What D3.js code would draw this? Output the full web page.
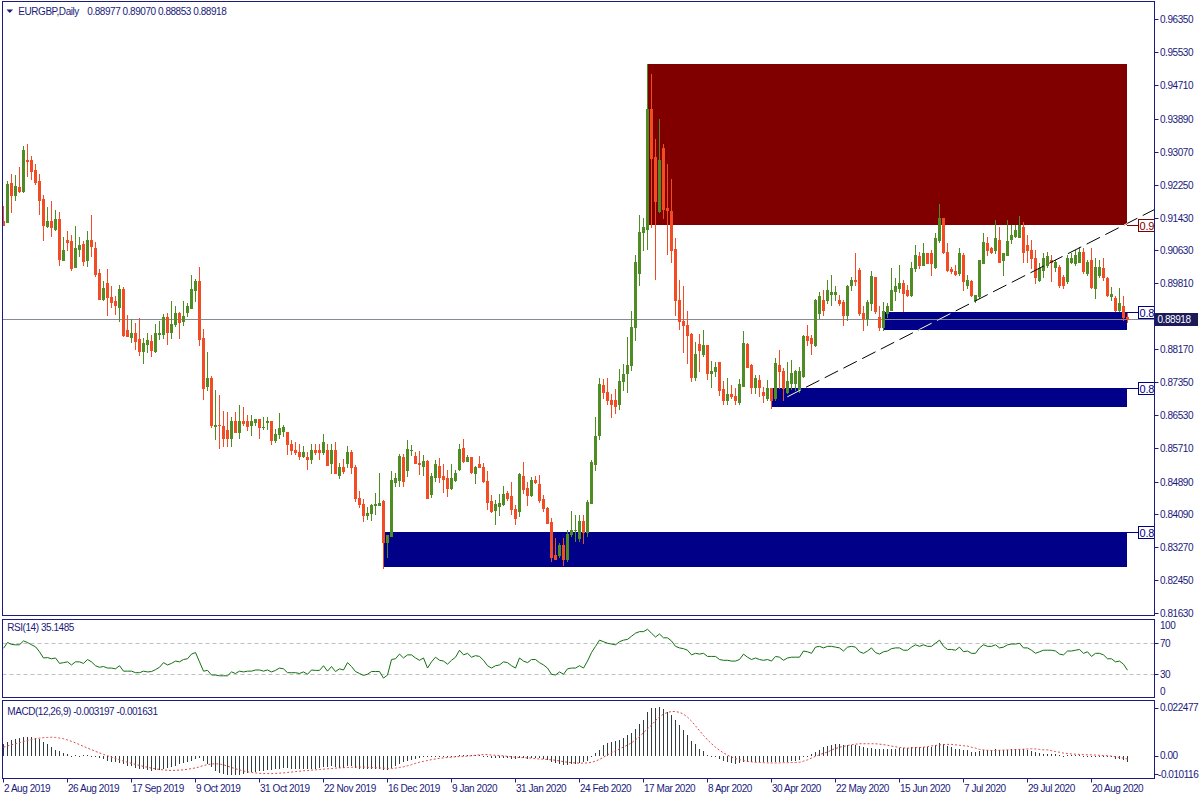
<!DOCTYPE html>
<html><head><meta charset="utf-8">
<script src="https://cdn.jsdelivr.net/npm/d3@7"></script>
<style>
html,body{margin:0;padding:0;background:#fff;}
svg{display:block;}
text{font-family:"Liberation Sans",Arial,sans-serif;font-size:10px;letter-spacing:-0.45px;fill:#1a1a7a;}
</style></head><body>
<svg id="chart" width="1200" height="800"></svg>
<script>
// ---------------- DATA ----------------
const symbolTitle = "EURGBP,Daily";
const dateTickLabels = ["2 Aug 2019","26 Aug 2019","17 Sep 2019","9 Oct 2019","31 Oct 2019","22 Nov 2019","16 Dec 2019","9 Jan 2020","31 Jan 2020","24 Feb 2020","17 Mar 2020","8 Apr 2020","30 Apr 2020","22 May 2020","15 Jun 2020","7 Jul 2020","29 Jul 2020","20 Aug 2020"];
const barsPerDateLabel = 16;
const priceTicks = [0.96350,0.95530,0.94710,0.93890,0.93070,0.92250,0.91430,0.90630,0.89810,0.88170,0.87350,0.86530,0.85710,0.84890,0.84090,0.83270,0.82450,0.81630];
const rsiTicks = [100,70,30,0];
const rsiLevels = [70,30];
const macdTicks = [0.022477,0.00,-0.010116];
const lastPrice = 0.88918;

// [open, high, low, close] per daily bar
const candles = [
[0.9134,0.9173,0.9126,0.9126],[0.9133,0.9233,0.9132,0.9227],[0.9230,0.9252,0.9156,0.9200],[0.9200,0.9249,0.9188,0.9222],[0.9220,0.9268,0.9206,0.9210],
[0.9210,0.9320,0.9206,0.9311],[0.9287,0.9326,0.9247,0.9284],[0.9287,0.9297,0.9240,0.9260],[0.9262,0.9277,0.9227,0.9231],[0.9235,0.9252,0.9153,0.9188],
[0.9190,0.9200,0.9088,0.9126],[0.9123,0.9169,0.9120,0.9136],[0.9136,0.9185,0.9098,0.9119],[0.9116,0.9163,0.9113,0.9140],[0.9140,0.9158,0.9026,0.9041],
[0.9039,0.9096,0.9039,0.9064],[0.9088,0.9111,0.9062,0.9083],[0.9086,0.9101,0.9014,0.9019],[0.9020,0.9122,0.9020,0.9069],[0.9066,0.9096,0.9049,0.9076],
[0.9079,0.9086,0.9026,0.9035],[0.9039,0.9111,0.9024,0.9088],[0.9088,0.9150,0.9049,0.9074],[0.9069,0.9083,0.8999,0.9004],[0.9007,0.9016,0.8942,0.8942],
[0.8942,0.8985,0.8940,0.8969],[0.8982,0.9017,0.8903,0.8947],[0.8947,0.8974,0.8921,0.8935],[0.8937,0.8950,0.8905,0.8927],[0.8922,0.8975,0.8886,0.8967],
[0.8967,0.8972,0.8851,0.8853],[0.8865,0.8903,0.8849,0.8849],[0.8848,0.8892,0.8836,0.8858],[0.8858,0.8882,0.8818,0.8838],[0.8843,0.8894,0.8802,0.8813],
[0.8813,0.8845,0.8784,0.8833],[0.8831,0.8858,0.8811,0.8841],[0.8838,0.8853,0.8801,0.8816],[0.8813,0.8880,0.8811,0.8858],[0.8855,0.8888,0.8843,0.8858],
[0.8855,0.8905,0.8846,0.8898],[0.8898,0.8908,0.8831,0.8860],[0.8860,0.8937,0.8846,0.8880],[0.8880,0.8925,0.8875,0.8908],[0.8908,0.8910,0.8846,0.8885],
[0.8888,0.8937,0.8878,0.8900],[0.8910,0.8932,0.8900,0.8925],[0.8920,0.9002,0.8920,0.8967],[0.8965,0.8992,0.8937,0.8987],[0.8986,0.9022,0.8828,0.8842],
[0.8845,0.8868,0.8694,0.8720],[0.8727,0.8811,0.8715,0.8746],[0.8746,0.8751,0.8624,0.8628],[0.8626,0.8716,0.8595,0.8630],[0.8630,0.8704,0.8573,0.8628],
[0.8626,0.8665,0.8576,0.8598],[0.8616,0.8662,0.8576,0.8598],[0.8598,0.8648,0.8576,0.8640],[0.8640,0.8662,0.8613,0.8613],[0.8613,0.8678,0.8598,0.8638],
[0.8638,0.8673,0.8628,0.8633],[0.8638,0.8653,0.8616,0.8626],[0.8628,0.8653,0.8605,0.8638],[0.8636,0.8645,0.8630,0.8643],[0.8643,0.8643,0.8598,0.8623],
[0.8623,0.8648,0.8620,0.8625],[0.8636,0.8648,0.8620,0.8638],[0.8638,0.8638,0.8583,0.8593],[0.8593,0.8618,0.8588,0.8608],[0.8606,0.8660,0.8598,0.8621],
[0.8615,0.8630,0.8603,0.8623],[0.8613,0.8613,0.8557,0.8581],[0.8583,0.8593,0.8556,0.8566],[0.8568,0.8588,0.8556,0.8561],[0.8563,0.8581,0.8544,0.8553],
[0.8553,0.8576,0.8549,0.8563],[0.8549,0.8563,0.8521,0.8544],[0.8544,0.8581,0.8536,0.8568],[0.8568,0.8583,0.8558,0.8563],[0.8568,0.8581,0.8544,0.8563],
[0.8563,0.8606,0.8558,0.8586],[0.8568,0.8581,0.8529,0.8531],[0.8534,0.8581,0.8511,0.8566],[0.8566,0.8586,0.8509,0.8509],[0.8504,0.8534,0.8497,0.8526],
[0.8524,0.8544,0.8511,0.8514],[0.8534,0.8576,0.8526,0.8561],[0.8561,0.8566,0.8511,0.8526],[0.8526,0.8531,0.8440,0.8449],[0.8449,0.8466,0.8425,0.8434],
[0.8434,0.8445,0.8390,0.8405],[0.8405,0.8425,0.8395,0.8412],[0.8412,0.8434,0.8394,0.8432],[0.8431,0.8461,0.8409,0.8434],[0.8431,0.8511,0.8431,0.8436],
[0.8440,0.8442,0.8274,0.8338],[0.8338,0.8357,0.8301,0.8357],[0.8355,0.8516,0.8353,0.8493],[0.8488,0.8511,0.8478,0.8498],[0.8493,0.8558,0.8477,0.8553],
[0.8550,0.8558,0.8477,0.8491],[0.8518,0.8592,0.8503,0.8570],[0.8566,0.8580,0.8555,0.8568],[0.8553,0.8563,0.8534,0.8536],[0.8536,0.8565,0.8508,0.8533],
[0.8528,0.8555,0.8506,0.8540],[0.8540,0.8543,0.8449,0.8449],[0.8459,0.8511,0.8451,0.8503],[0.8501,0.8543,0.8491,0.8533],[0.8528,0.8548,0.8488,0.8501],
[0.8503,0.8533,0.8463,0.8496],[0.8498,0.8518,0.8454,0.8473],[0.8473,0.8533,0.8470,0.8498],[0.8493,0.8518,0.8491,0.8511],[0.8520,0.8583,0.8518,0.8570],
[0.8573,0.8595,0.8538,0.8540],[0.8540,0.8555,0.8540,0.8550],[0.8550,0.8550,0.8511,0.8513],[0.8511,0.8528,0.8486,0.8526],[0.8533,0.8553,0.8525,0.8526],
[0.8526,0.8536,0.8488,0.8491],[0.8491,0.8516,0.8421,0.8439],[0.8441,0.8456,0.8414,0.8416],[0.8419,0.8444,0.8384,0.8434],[0.8429,0.8459,0.8406,0.8436],
[0.8434,0.8478,0.8431,0.8459],[0.8461,0.8466,0.8444,0.8449],[0.8454,0.8488,0.8409,0.8421],[0.8421,0.8431,0.8384,0.8399],[0.8417,0.8511,0.8404,0.8508],
[0.8503,0.8538,0.8461,0.8471],[0.8473,0.8488,0.8431,0.8456],[0.8456,0.8501,0.8454,0.8493],[0.8493,0.8503,0.8486,0.8488],[0.8483,0.8506,0.8439,0.8444],
[0.8446,0.8456,0.8417,0.8424],[0.8424,0.8427,0.8387,0.8387],[0.8389,0.8399,0.8293,0.8303],[0.8306,0.8348,0.8296,0.8298],[0.8306,0.8336,0.8301,0.8331],
[0.8331,0.8348,0.8281,0.8298],[0.8298,0.8368,0.8293,0.8358],[0.8358,0.8417,0.8353,0.8370],[0.8368,0.8405,0.8341,0.8370],[0.8350,0.8405,0.8341,0.8390],
[0.8390,0.8405,0.8336,0.8363],[0.8365,0.8442,0.8355,0.8437],[0.8435,0.8543,0.8435,0.8538],[0.8533,0.8650,0.8518,0.8602],[0.8605,0.8745,0.8595,0.8730],
[0.8729,0.8744,0.8695,0.8712],[0.8712,0.8745,0.8680,0.8690],[0.8690,0.8705,0.8650,0.8680],[0.8690,0.8718,0.8660,0.8675],[0.8680,0.8768,0.8670,0.8739],
[0.8737,0.8781,0.8715,0.8756],[0.8758,0.8847,0.8712,0.8778],[0.8777,0.8912,0.8765,0.8872],[0.8871,0.9051,0.8840,0.9034],[0.9007,0.9150,0.8977,0.9108],
[0.9108,0.9143,0.9063,0.9120],[0.9116,0.9524,0.9066,0.9412],[0.9412,0.9499,0.9121,0.9292],[0.9294,0.9338,0.8991,0.9185],[0.9160,0.9388,0.9157,0.9286],
[0.9316,0.9326,0.9143,0.9165],[0.9167,0.9276,0.9053,0.9162],[0.9160,0.9239,0.9033,0.9063],[0.9066,0.9094,0.8902,0.8939],[0.8939,0.8989,0.8867,0.8886],
[0.8887,0.8974,0.8811,0.8877],[0.8877,0.8912,0.8784,0.8853],[0.8855,0.8858,0.8737,0.8749],[0.8747,0.8835,0.8741,0.8806],[0.8830,0.8855,0.8764,0.8816],
[0.8806,0.8865,0.8799,0.8828],[0.8828,0.8828,0.8744,0.8759],[0.8759,0.8788,0.8723,0.8763],[0.8763,0.8785,0.8751,0.8773],[0.8786,0.8786,0.8704,0.8716],
[0.8719,0.8739,0.8680,0.8690],[0.8690,0.8745,0.8680,0.8706],[0.8706,0.8729,0.8696,0.8700],[0.8701,0.8721,0.8680,0.8690],[0.8685,0.8744,0.8680,0.8731],
[0.8726,0.8863,0.8725,0.8833],[0.8830,0.8833,0.8772,0.8774],[0.8778,0.8780,0.8708,0.8724],[0.8724,0.8752,0.8708,0.8745],[0.8741,0.8754,0.8700,0.8724],
[0.8712,0.8724,0.8687,0.8704],[0.8696,0.8741,0.8692,0.8720],[0.8720,0.8720,0.8671,0.8692],[0.8696,0.8795,0.8692,0.8782],[0.8778,0.8815,0.8720,0.8762],
[0.8762,0.8770,0.8692,0.8720],[0.8712,0.8786,0.8708,0.8737],[0.8734,0.8791,0.8718,0.8759],[0.8733,0.8765,0.8716,0.8762],[0.8716,0.8774,0.8712,0.8762],
[0.8751,0.8853,0.8749,0.8849],[0.8849,0.8877,0.8828,0.8840],[0.8844,0.8853,0.8806,0.8832],[0.8828,0.8942,0.8826,0.8939],[0.8906,0.8960,0.8894,0.8948],
[0.8939,0.8964,0.8902,0.8915],[0.8939,0.8989,0.8931,0.8964],[0.8955,0.9001,0.8927,0.8960],[0.8954,0.8973,0.8939,0.8960],[0.8939,0.8952,0.8927,0.8931],
[0.8935,0.8939,0.8877,0.8902],[0.8902,0.8977,0.8890,0.8974],[0.8976,0.8996,0.8964,0.8989],[0.8989,0.9055,0.8976,0.8985],[0.9014,0.9018,0.8902,0.8906],
[0.8906,0.8923,0.8865,0.8894],[0.8894,0.8939,0.8877,0.8935],[0.8931,0.9010,0.8915,0.8999],[0.8996,0.8996,0.8906,0.8911],[0.8898,0.8923,0.8865,0.8873],
[0.8873,0.8935,0.8865,0.8911],[0.8906,0.8931,0.8898,0.8923],[0.8915,0.9018,0.8915,0.8964],[0.8962,0.8993,0.8939,0.8974],[0.8968,0.9026,0.8960,0.8981],
[0.8981,0.8989,0.8911,0.8956],[0.8964,0.8976,0.8948,0.8952],[0.8952,0.9034,0.8948,0.9018],[0.9018,0.9076,0.9010,0.9051],[0.9047,0.9059,0.9018,0.9026],
[0.9026,0.9080,0.9026,0.9055],[0.9055,0.9055,0.9030,0.9030],[0.9055,0.9063,0.9001,0.9030],[0.9022,0.9105,0.9018,0.9092],[0.9088,0.9177,0.9084,0.9142],
[0.9142,0.9142,0.9055,0.9058],[0.9059,0.9080,0.9010,0.9014],[0.9016,0.9022,0.9005,0.9012],[0.9012,0.9026,0.9001,0.9004],[0.9006,0.9067,0.9001,0.9055],
[0.9051,0.9055,0.8964,0.8985],[0.8976,0.9001,0.8968,0.8989],[0.8985,0.8989,0.8948,0.8952],[0.8939,0.8952,0.8935,0.8952],[0.8948,0.9038,0.8944,0.9037],
[0.9032,0.9106,0.9030,0.9082],[0.9080,0.9096,0.9051,0.9063],[0.9067,0.9071,0.9055,0.9057],[0.9063,0.9138,0.9055,0.9092],[0.9088,0.9121,0.9034,0.9034],
[0.9038,0.9055,0.9001,0.9055],[0.9051,0.9138,0.9051,0.9086],[0.9090,0.9125,0.9080,0.9100],[0.9098,0.9125,0.9096,0.9113],[0.9096,0.9148,0.9096,0.9125],
[0.9121,0.9133,0.9034,0.9059],[0.9076,0.9100,0.9034,0.9063],[0.9063,0.9088,0.9018,0.9043],[0.9043,0.9063,0.8981,0.8997],[0.8989,0.9030,0.8985,0.9018],
[0.9014,0.9055,0.8997,0.9043],[0.9026,0.9059,0.9022,0.9047],[0.9038,0.9051,0.8985,0.9034],[0.9022,0.9038,0.9010,0.9034],[0.9022,0.9026,0.8972,0.8976],
[0.8997,0.9001,0.8968,0.8976],[0.8985,0.9051,0.8981,0.9043],[0.9034,0.9055,0.9030,0.9043],[0.9030,0.9063,0.9026,0.9051],[0.9034,0.9071,0.9034,0.9059],
[0.9059,0.9067,0.9005,0.9010],[0.9005,0.9038,0.9001,0.9034],[0.9038,0.9067,0.8968,0.8972],[0.8968,0.9043,0.8943,0.9022],[0.9001,0.9038,0.8997,0.9022],
[0.9018,0.9043,0.8989,0.8997],[0.8993,0.8997,0.8948,0.8952],[0.8948,0.8972,0.8939,0.8954],[0.8943,0.8948,0.8911,0.8915],[0.8915,0.8968,0.8911,0.8931],
[0.8923,0.8948,0.8890,0.8898],[0.88977,0.89070,0.88853,0.88918]
];

const rsi14 = [
63.5,71,68.5,68,68,73,71,68,65.5,59, 51,51.5,50,51,44,45,46,42,46,46,
44,49,46,41,39,40,38,38,37,41, 34,34,34,32,32,34,33,33.5,36,39,
45,42,44,47,46,49,50,56,58,46, 34,35,29,29,28,28,28,33,31,34,
33,34,34,35.5,35.5,34,35.5,33,35,38, 37,32,32,32,31,33,30,35.5,35,35,
41,34,40,33.5,37,35.5,45,40,33.5,31, 28.5,30,33.5,33.5,33.5,25,29,49,50,56,
51,55,55,51,48,51,38,46,52,48, 47,43,48,52,61,55,57,52,54,53,
48,41,38,41,42,46,45,41,38,51, 47,45,49,49,45,42,38,30,29,33,
30,37,38,38,41,38,47,58,66,74, 72,70,69,68,72,74,75,79,83,85,
85,88,83,78,82,77,77,73,66,64, 63,61,55,57,56,57,53,53,53,49,
48,48,47,47,49,56,52,49,51,49, 48,49,47,53,52,48,51,52,52,52,
60,59,57,65,66,64,66,66,65,64, 60,65,66,65,59,57,60,64,58,56,
59,60,63,64,64,61,61,65,68,66, 68,66,66,70,74,66,62,62,61,65,
59,60,57,57,64,68,66,66,68,64, 65,68,69,69,70,64,64,61,57,59,
61,61,61,60,56,55,60,60,61,62, 57,59,53,57,57,55,50,50,46,47,
43,35.1485
];

const macdMain = [
0.0054,0.0061,0.0069,0.0074,0.0080,0.0084,0.0087,0.0087,0.0081,0.0074,
0.0061,0.0054,0.0038,0.0027,0.0020,0.0011,0.0005,0.0000,0.0003,0.0000,
0.0001,0.0001,-0.0002,-0.0005,-0.0011,-0.0015,-0.0023,-0.0028,-0.0032,-0.0035,
-0.0041,-0.0046,-0.0050,-0.0057,-0.0060,-0.0063,-0.0066,-0.0069,-0.0066,-0.0066,
-0.0062,-0.0057,-0.0054,-0.0048,-0.0041,-0.0035,-0.0031,-0.0023,-0.0015,-0.0011,
-0.0023,-0.0038,-0.0054,-0.0069,-0.0080,-0.0084,-0.0089,-0.0090,-0.0089,-0.0088,
-0.0084,-0.0081,-0.0078,-0.0075,-0.0072,-0.0069,-0.0066,-0.0065,-0.0063,-0.0060,
-0.0057,-0.0058,-0.0060,-0.0061,-0.0063,-0.0063,-0.0063,-0.0061,-0.0060,-0.0057,
-0.0054,-0.0054,-0.0050,-0.0054,-0.0056,-0.0056,-0.0050,-0.0050,-0.0057,-0.0060,
-0.0063,-0.0064,-0.0063,-0.0061,-0.0060,-0.0066,-0.0066,-0.0057,-0.0047,-0.0041,
-0.0031,-0.0026,-0.0020,-0.0015,-0.0012,-0.0009,-0.0008,-0.0006,-0.0004,-0.0003,
-0.0002,-0.0002,-0.0001,0.0000,0.0003,0.0004,0.0004,0.0003,0.0002,0.0001,
-0.0002,-0.0006,-0.0010,-0.0012,-0.0013,-0.0012,-0.0012,-0.0014,-0.0017,-0.0013,
-0.0013,-0.0014,-0.0012,-0.0011,-0.0013,-0.0016,-0.0020,-0.0028,-0.0035,-0.0038,
-0.0043,-0.0043,-0.0041,-0.0038,-0.0035,-0.0032,-0.0024,-0.0005,0.0010,0.0026,
0.0049,0.0056,0.0061,0.0066,0.0072,0.0081,0.0092,0.0104,0.0122,0.0145,
0.0165,0.0202,0.0219,0.0219,0.0225,0.0214,0.0199,0.0184,0.0165,0.0138,
0.0115,0.0092,0.0066,0.0051,0.0031,0.0020,0.0003,0.0000,-0.0005,-0.0015,
-0.0026,-0.0031,-0.0035,-0.0038,-0.0035,-0.0032,-0.0031,-0.0031,-0.0031,-0.0031,
-0.0031,-0.0031,-0.0031,-0.0031,-0.0031,-0.0031,-0.0028,-0.0026,-0.0023,-0.0020,
-0.0008,0.0000,0.0008,0.0015,0.0026,0.0038,0.0043,0.0047,0.0051,0.0051,
0.0049,0.0049,0.0047,0.0046,0.0043,0.0038,0.0035,0.0035,0.0031,0.0028,
0.0028,0.0028,0.0031,0.0032,0.0034,0.0034,0.0034,0.0037,0.0040,0.0040,
0.0041,0.0041,0.0041,0.0047,0.0057,0.0051,0.0044,0.0038,0.0032,0.0031,
0.0026,0.0023,0.0018,0.0015,0.0020,0.0026,0.0026,0.0026,0.0028,0.0026,
0.0024,0.0026,0.0028,0.0029,0.0031,0.0028,0.0024,0.0020,0.0014,0.0011,
0.0009,0.0008,0.0006,0.0005,0.0002,-0.0002,0.0002,0.0002,0.0003,0.0003,
0.0000,0.0000,-0.0003,-0.0002,-0.0002,-0.0003,-0.0008,-0.0008,-0.0015,-0.0015,
-0.0020,-0.003197
];

const macdSignal = [
0.0038,0.0044,0.0049,0.0054,0.0059,0.0064,0.0069,0.0073,0.0077,0.0080,
0.0082,0.0083,0.0084,0.0083,0.0080,0.0077,0.0071,0.0065,0.0058,0.0050,
0.0042,0.0034,0.0027,0.0019,0.0012,0.0005,-0.0001,-0.0008,-0.0014,-0.0020,
-0.0026,-0.0031,-0.0036,-0.0041,-0.0046,-0.0050,-0.0054,-0.0058,-0.0061,-0.0064,
-0.0066,-0.0068,-0.0069,-0.0068,-0.0067,-0.0066,-0.0063,-0.0060,-0.0057,-0.0052,
-0.0046,-0.0042,-0.0039,-0.0038,-0.0039,-0.0043,-0.0049,-0.0055,-0.0061,-0.0066,
-0.0071,-0.0075,-0.0078,-0.0080,-0.0082,-0.0083,-0.0083,-0.0083,-0.0082,-0.0081,
-0.0080,-0.0078,-0.0076,-0.0074,-0.0072,-0.0070,-0.0069,-0.0067,-0.0066,-0.0064,
-0.0063,-0.0061,-0.0060,-0.0058,-0.0057,-0.0056,-0.0055,-0.0054,-0.0053,-0.0053,
-0.0053,-0.0054,-0.0055,-0.0056,-0.0057,-0.0058,-0.0059,-0.0060,-0.0058,-0.0055,
-0.0052,-0.0047,-0.0042,-0.0036,-0.0031,-0.0027,-0.0023,-0.0019,-0.0016,-0.0013,
-0.0011,-0.0009,-0.0008,-0.0006,-0.0005,-0.0004,-0.0003,-0.0001,0.0001,0.0003,
0.0004,0.0004,0.0002,0.0001,0.0000,-0.0002,-0.0004,-0.0006,-0.0008,-0.0009,
-0.0010,-0.0011,-0.0012,-0.0015,-0.0016,-0.0017,-0.0018,-0.0020,-0.0022,-0.0025,
-0.0028,-0.0031,-0.0033,-0.0034,-0.0035,-0.0035,-0.0034,-0.0031,-0.0026,-0.0018,
-0.0008,0.0003,0.0013,0.0022,0.0030,0.0039,0.0048,0.0058,0.0072,0.0087,
0.0105,0.0122,0.0140,0.0160,0.0178,0.0190,0.0198,0.0202,0.0202,0.0198,
0.0190,0.0176,0.0158,0.0136,0.0114,0.0092,0.0072,0.0054,0.0038,0.0024,
0.0012,0.0002,-0.0007,-0.0014,-0.0019,-0.0023,-0.0027,-0.0029,-0.0031,-0.0032,
-0.0033,-0.0034,-0.0034,-0.0034,-0.0034,-0.0033,-0.0033,-0.0032,-0.0032,-0.0031,
-0.0026,-0.0020,-0.0012,-0.0004,0.0004,0.0010,0.0016,0.0025,0.0032,0.0038,
0.0042,0.0046,0.0049,0.0052,0.0054,0.0054,0.0054,0.0054,0.0054,0.0052,
0.0050,0.0047,0.0043,0.0040,0.0037,0.0035,0.0034,0.0035,0.0036,0.0037,
0.0038,0.0041,0.0044,0.0046,0.0049,0.0050,0.0051,0.0051,0.0049,0.0047,
0.0045,0.0043,0.0038,0.0034,0.0028,0.0026,0.0024,0.0023,0.0023,0.0024,
0.0025,0.0026,0.0026,0.0027,0.0028,0.0029,0.0030,0.0031,0.0030,0.0028,
0.0026,0.0026,0.0022,0.0018,0.0015,0.0011,0.0009,0.0007,0.0006,0.0005,
0.0004,0.0003,0.0003,0.0002,0.0001,0.0000,-0.0001,-0.0003,-0.0006,-0.0009,
-0.0012,-0.001631
];

// zones: first bar, last bar, upper price, lower price, labelled level
const supplyZones = [
  {fromBar:161, toBar:281, upper:0.9524, lower:0.9124, level:0.9124}
];
const demandZones = [
  {fromBar:220, toBar:281, upper:0.8910, lower:0.8865, level:0.8910},
  {fromBar:192, toBar:281, upper:0.8721, lower:0.8673, level:0.8721},
  {fromBar:95,  toBar:281, upper:0.8365, lower:0.8276, level:0.8365}
];
// trend line anchors: [bar, price]
const trendAnchors = [[196, 0.8699],[281, 0.9129]];

// ---------------- DRAWING ----------------
const svg = d3.select('#chart');
const NAVY = '#1a1a80';
const BULL = '#4f8c23', BEAR = '#f34b24';
const L = 2.5, R = 1154.5;
const P = {main:[1.5,615.5], rsi:[619.5,697.5], macd:[700.5,778.5]};

const x = d3.scaleLinear().domain([0, candles.length-1]).range([3.3, 3.3 + 4*(candles.length-1)]);
const y = d3.scaleLinear().domain([0.81630, 0.96350]).range([613, 19.3]);
const yR = d3.scaleLinear().domain([0,100]).range([697.5,620]);
const yM = d3.scaleLinear().domain([-0.0101,0.0225]).range([777.5,706.5]);

const defs = svg.append('defs');
function clip(id, top, bot){
  defs.append('clipPath').attr('id',id).append('rect')
    .attr('x',L+0.5).attr('y',top+0.5).attr('width',R-L-1).attr('height',bot-top-1);
}
clip('cMain',P.main[0],P.main[1]); clip('cRsi',P.rsi[0],P.rsi[1]); clip('cMacd',P.macd[0],P.macd[1]);
const allZones = supplyZones.concat(demandZones);
const zc = defs.append('clipPath').attr('id','cZones');
allZones.forEach(z=>{
  zc.append('rect').attr('x',x(z.fromBar)).attr('y',y(z.upper))
    .attr('width',x(z.toBar)-x(z.fromBar)).attr('height',y(z.lower)-y(z.upper));
});
defs.append('clipPath').attr('id','cLabels').append('rect')
  .attr('x',1100).attr('y',0).attr('width',R-1100-0.5).attr('height',616);

// ---- main panel ----
const gm = svg.append('g').attr('clip-path','url(#cMain)');
const zoneRect = (sel, data, color) => sel.selectAll(null).data(data).join('rect')
  .attr('x',d=>Math.round(x(d.fromBar))).attr('y',d=>Math.round(y(d.upper)))
  .attr('width',d=>Math.round(x(d.toBar))-Math.round(x(d.fromBar)))
  .attr('height',d=>Math.round(y(d.lower))-Math.round(y(d.upper)))
  .attr('fill',color);
zoneRect(gm, supplyZones, '#800000');
zoneRect(gm, demandZones, '#000088');

// last price line
const yl = Math.round(y(lastPrice))+0.5;
gm.append('line').attr('x1',L).attr('x2',R).attr('y1',yl).attr('y2',yl).attr('stroke','#858b93').attr('stroke-width',1);

// candles
const cx = i => Math.floor(x(i));
gm.selectAll('line.wick').data(candles).join('line').attr('class','wick')
  .attr('x1',(d,i)=>cx(i)+0.5).attr('x2',(d,i)=>cx(i)+0.5)
  .attr('y1',d=>Math.round(y(d[1]))).attr('y2',d=>Math.round(y(d[2]))+1)
  .attr('stroke',d=>d[3]>=d[0]?BULL:BEAR).attr('stroke-width',1);
gm.selectAll('rect.body').data(candles).join('rect').attr('class','body')
  .attr('x',(d,i)=>cx(i)-1).attr('width',3)
  .attr('y',d=>Math.round(y(Math.max(d[0],d[3]))))
  .attr('height',d=>Math.max(1,Math.round(y(Math.min(d[0],d[3])))-Math.round(y(Math.max(d[0],d[3])))+1))
  .attr('fill',d=>d[3]>=d[0]?BULL:BEAR);

// trend line (ray)
const [a0,a1] = trendAnchors;
const slope = (a1[1]-a0[1])/(a1[0]-a0[0]);
const barEnd = x.invert(R);
const tl = {x1:x(a0[0]), y1:y(a0[1]), x2:x(barEnd), y2:y(a0[1]+slope*(barEnd-a0[0]))};
gm.append('line').attr('x1',tl.x1).attr('y1',tl.y1).attr('x2',tl.x2).attr('y2',tl.y2)
  .attr('stroke','#000').attr('stroke-width',1).attr('stroke-dasharray','15,6');
gm.append('g').attr('clip-path','url(#cZones)').append('line')
  .attr('x1',tl.x1).attr('y1',tl.y1).attr('x2',tl.x2).attr('y2',tl.y2)
  .attr('stroke','#fff').attr('stroke-width',1).attr('stroke-dasharray','15,6');

// zone level labels (box partly hidden behind the price scale, as in the terminal)
const gl = svg.append('g').attr('clip-path','url(#cLabels)');
[[supplyZones,'#800000'],[demandZones,'#000088']].forEach(([zs,col])=>{
  zs.forEach(z=>{
    const yy = Math.round(y(z.level))+0.5;
    gl.append('line').attr('x1',Math.round(x(z.toBar))).attr('x2',1138.5).attr('y1',yy).attr('y2',yy).attr('stroke',col);
    gl.append('rect').attr('x',1138.5).attr('y',yy-6).attr('width',24).attr('height',12)
      .attr('fill','#fff').attr('stroke',col);
    gl.append('text').attr('x',1139.5).attr('y',yy+4.5).style('font-size','11px').style('letter-spacing','-0.2px')
      .style('fill',col).text(z.level.toFixed(5).slice(0,3));
  });
});

// ---- RSI panel ----
const gr = svg.append('g').attr('clip-path','url(#cRsi)');
rsiLevels.forEach(v=>{
  const yy = Math.round(yR(v))+0.5;
  gr.append('line').attr('x1',L).attr('x2',R).attr('y1',yy).attr('y2',yy)
    .attr('stroke','#c0c0c0').attr('stroke-dasharray','4,3');
});
gr.append('path').datum(rsi14)
  .attr('d', d3.line().x((d,i)=>cx(i)+0.5).y(d=>yR(d)))
  .attr('fill','none').attr('stroke','#127012').attr('stroke-width',1);

// ---- MACD panel ----
const gc = svg.append('g').attr('clip-path','url(#cMacd)');
const y0 = Math.round(yM(0));
gc.selectAll('line.h').data(macdMain).join('line').attr('class','h')
  .attr('x1',(d,i)=>cx(i)+0.5).attr('x2',(d,i)=>cx(i)+0.5)
  .attr('y1',y0).attr('y2',d=>{const yy=Math.round(yM(d)); return yy===y0? y0+1 : yy;})
  .attr('stroke','#2f3d3d').attr('stroke-width',1);
gc.append('path').datum(macdSignal)
  .attr('d', d3.line().x((d,i)=>cx(i)+0.5).y(d=>yM(d)))
  .attr('fill','none').attr('stroke','#e04848').attr('stroke-width',1).attr('stroke-dasharray','2,2');

// ---- frames ----
Object.values(P).forEach(([t,b])=>{
  svg.append('rect').attr('x',L).attr('y',t).attr('width',R-L).attr('height',b-t)
    .attr('fill','none').attr('stroke',NAVY).attr('stroke-width',1);
});

// ---- price axis ----
const ga = svg.append('g');
priceTicks.forEach(v=>{
  const yy = Math.round(y(v))+0.5;
  ga.append('line').attr('x1',R).attr('x2',R+4).attr('y1',yy).attr('y2',yy).attr('stroke',NAVY);
  ga.append('text').attr('x',1160).attr('y',yy+3.5).text(v.toFixed(5));
});
// current price tag
ga.append('rect').attr('x',1155).attr('y',yl-6.5).attr('width',43).attr('height',13).attr('fill','#1b1b5a');
ga.append('text').attr('x',1157.5).attr('y',yl+3.5).style('fill','#ffffff').text(lastPrice.toFixed(5));

// RSI axis
rsiTicks.forEach(v=>{
  let yy = yR(v);
  if (v===100) yy += 5; if (v===0) yy -= 6.5;
  if (v===70 || v===30){
    ga.append('line').attr('x1',R).attr('x2',R+4).attr('y1',Math.round(yR(v))+0.5).attr('y2',Math.round(yR(v))+0.5).attr('stroke',NAVY);
  }
  ga.append('text').attr('x',1160).attr('y',yy+3.5).text(String(v));
});
// MACD axis
macdTicks.forEach((v,k)=>{
  let yy = yM(v);
  if (k===0) yy = 707.7; if (k===2) yy = 774;
  ga.append('line').attr('x1',R).attr('x2',R+4).attr('y1',Math.round(yy)+0.5).attr('y2',Math.round(yy)+0.5).attr('stroke',NAVY);
  ga.append('text').attr('x', v<0 ? 1158 : 1160).attr('y',yy+3.5).text(v===0 ? '0.00' : v.toFixed(6));
});

// ---- date axis ----
dateTickLabels.forEach((lab,k)=>{
  const xi = cx(k*barsPerDateLabel)+0.5;
  ga.append('line').attr('x1',xi).attr('x2',xi).attr('y1',P.macd[1]).attr('y2',P.macd[1]+4).attr('stroke',NAVY);
  ga.append('text').attr('x',xi+0.5).attr('y',792).text(lab);
});

// ---- titles ----
ga.append('path').attr('d','M6.5,9.5 L13,9.5 L9.75,13 Z').attr('fill',NAVY);
ga.append('text').attr('x',18.3).attr('y',14.5).text(symbolTitle);
const lc = candles[candles.length-1];
ga.append('text').attr('x',87.3).attr('y',14.5).text(lc.map(v=>v.toFixed(5)).join(' '));
ga.append('text').attr('x',7.3).attr('y',631).text('RSI(14) ' + rsi14[rsi14.length-1].toFixed(4));
ga.append('text').attr('x',7.3).attr('y',714.5)
  .text('MACD(12,26,9) ' + macdMain[macdMain.length-1].toFixed(6) + ' ' + macdSignal[macdSignal.length-1].toFixed(6));
</script>
</body></html>
